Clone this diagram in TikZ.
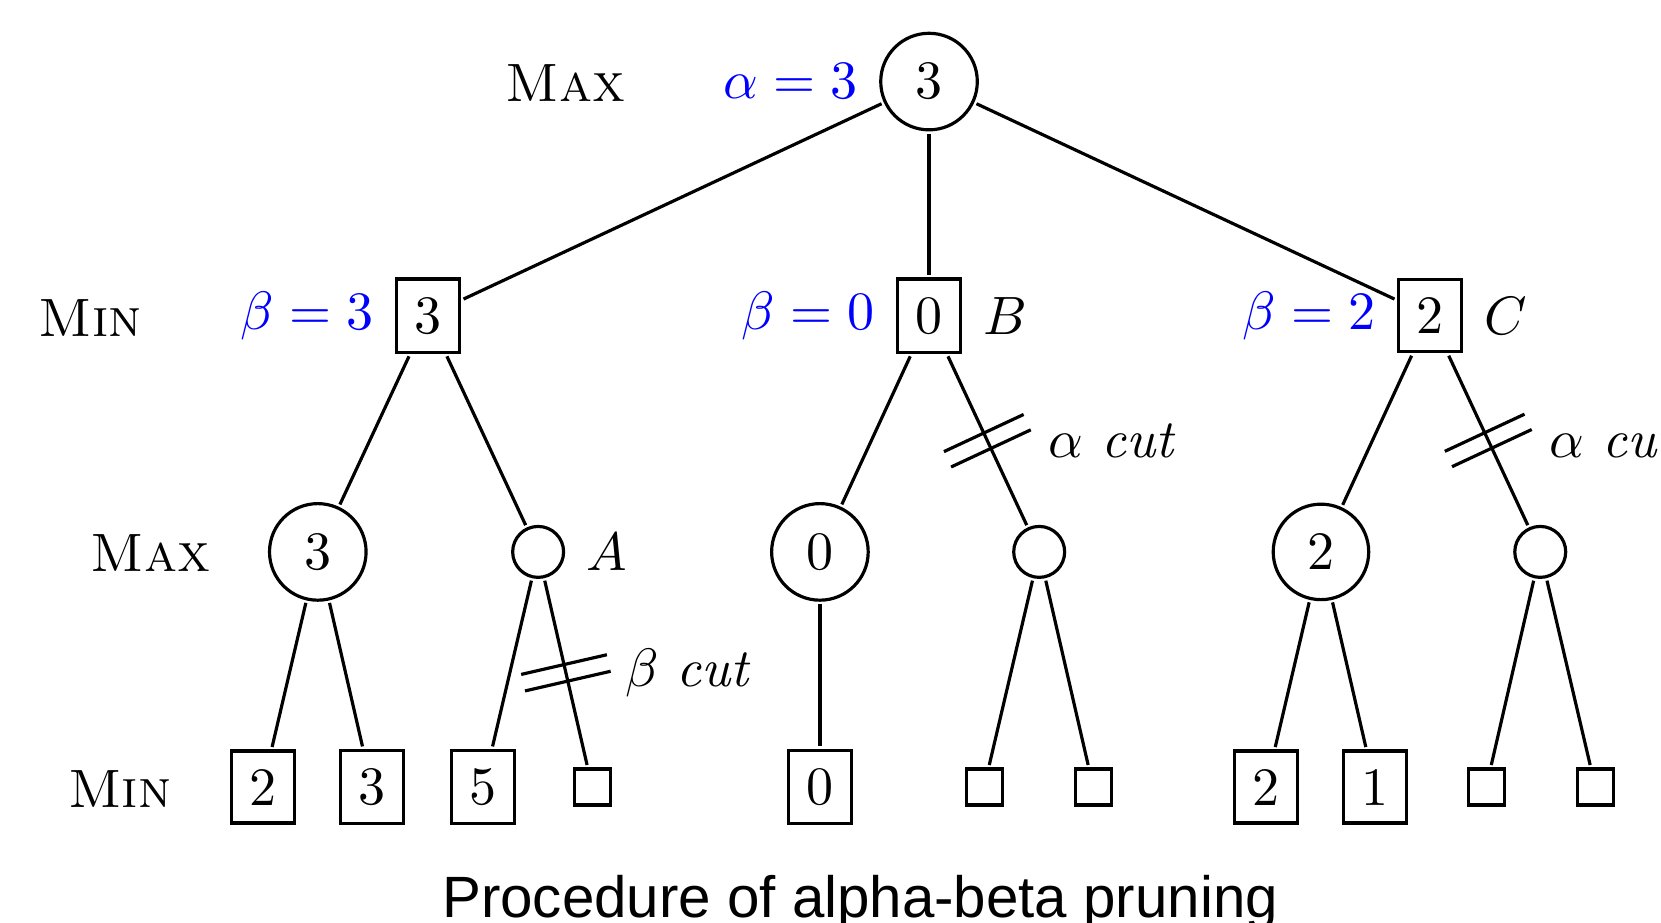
\documentclass[tikz,border=0pt]{standalone}
\usepackage{fontspec}
\newfontfamily\capfont{Liberation Sans}
\begin{document}
\begin{tikzpicture}[x=0.5pt,y=-0.5pt,
  font=\fontsize{10}{12}\selectfont,
  big/.style={scale=2.55},
  edge/.style={line width=1.5pt},
  maxnode/.style={big,circle,draw,line width=1.5pt},
  minnode/.style={big,rectangle,draw,line width=1.5pt},
  bound/.style={big,text=blue},
  tag/.style={big},
  cutpair/.style={sloped,inner sep=0pt,minimum width=6.5pt,minimum height=40pt},
  cutline/.style={line width=1.5pt},
]
\clip (0,0) rectangle (1568,871);

% level labels
\node[tag] (lv0) at (534,78)  {\textsc{Max}};
\node[tag] (lv1) at (85,300)  {\textsc{Min}};
\node[tag] (lv2) at (142,522) {\textsc{Max}};
\node[tag] (lv3) at (113,745) {\textsc{Min}};

% root
\node[maxnode] (r) at (877,77) {3};

% min level
\node[minnode] (a) at (404,298)  {3};
\node[minnode] (b) at (877,298)  {0};
\node[minnode] (c) at (1350,298) {2};

% max level
\node[maxnode] (aa) at (300,521)  {3};
\node[maxnode] (ab) at (508,521)  {};
\node[maxnode] (ba) at (774,521)  {0};
\node[maxnode] (bb) at (981,521)  {};
\node[maxnode] (ca) at (1247,521) {2};
\node[maxnode] (cb) at (1454,521) {};

% leaves
\node[minnode] (l1)  at (248,743)  {2};
\node[minnode] (l2)  at (351,743)  {3};
\node[minnode] (l3)  at (456,743)  {5};
\node[minnode] (l4)  at (559,743)  {};
\node[minnode] (l5)  at (774,743)  {0};
\node[minnode] (l6)  at (929,743)  {};
\node[minnode] (l7)  at (1032,743) {};
\node[minnode] (l8)  at (1195,743) {2};
\node[minnode] (l9)  at (1298,743) {1};
\node[minnode] (l10) at (1403,743) {};
\node[minnode] (l11) at (1506,743) {};

% bounds and names
\node[bound,anchor=east] (al) at (r.west) {$\alpha=3$};
\node[bound,anchor=east] (b1) at (a.west) {$\beta=3$};
\node[bound,anchor=east] (b2) at (b.west) {$\beta=0$};
\node[bound,anchor=east] (b3) at (c.west) {$\beta=2$};
\node[tag,anchor=west] (nA) at (ab.east) {$A$};
\node[tag,anchor=west] (nB) at (b.east) {$B$};
\node[tag,anchor=west] (nC) at (c.east) {$C$};

% edges
\draw[edge] (r) -- (a);
\draw[edge] (r) -- (b);
\draw[edge] (r) -- (c);
\draw[edge] (a) -- (aa);
\draw[edge] (a) -- (ab);
\draw[edge] (b) -- (ba);
\draw[edge] (b) -- node[cutpair] (kb) {} (bb);
\draw[edge] (c) -- (ca);
\draw[edge] (c) -- node[cutpair] (kc) {} (cb);
\draw[edge] (aa) -- (l1);
\draw[edge] (aa) -- (l2);
\draw[edge] (ab) -- (l3);
\draw[edge] (ab) -- node[cutpair] (ka) {} (l4);
\draw[edge] (ba) -- (l5);
\draw[edge] (bb) -- (l6);
\draw[edge] (bb) -- (l7);
\draw[edge] (ca) -- (l8);
\draw[edge] (ca) -- (l9);
\draw[edge] (cb) -- (l10);
\draw[edge] (cb) -- (l11);

% cut marks
\foreach \k in {ka,kb,kc}
  \draw[cutline] (\k.north west) -- (\k.south west)
                 (\k.north east) -- (\k.south east);
\node[tag,anchor=west] (ta) at ([xshift=19pt]ka) {$\beta$ \textit{cut}};
\node[tag,anchor=west] (tb) at ([xshift=20pt]kb) {$\alpha$ \textit{cut}};
\node[tag,anchor=west] (tc) at ([xshift=20pt]kc) {$\alpha$ \textit{cut}};

% caption
\node[font=\capfont\fontsize{27.5}{33}\selectfont,anchor=base] (cap) at (812,866)
  {Procedure of alpha-beta pruning};
\end{tikzpicture}
\end{document}
